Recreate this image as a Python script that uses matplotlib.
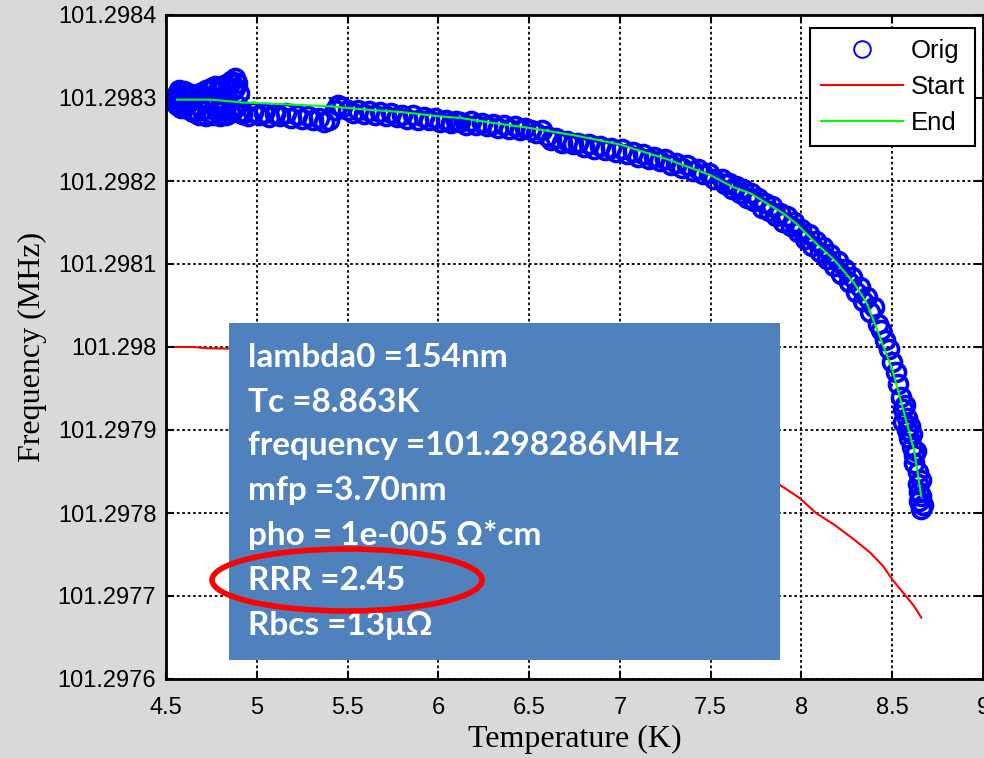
import numpy as np
import matplotlib
matplotlib.use("Agg")
import matplotlib.pyplot as plt
from matplotlib.patches import Rectangle, Ellipse
from matplotlib.ticker import FormatStrFormatter, MultipleLocator

# resonance frequency vs temperature, offsets in Hz above 101.298 MHz
f0_mhz = 101.298

orig_T = [4.55, 4.56, 4.56, 4.57, 4.57, 4.58, 4.58, 4.59, 4.60, 4.60, 4.61, 4.62, 4.62, 4.63,
          4.64, 4.65, 4.65, 4.66, 4.67, 4.68, 4.68, 4.69, 4.70, 4.71, 4.72, 4.72, 4.73, 4.74,
          4.75, 4.76, 4.77, 4.77, 4.78, 4.79, 4.80, 4.81, 4.82, 4.82, 4.83, 4.84, 4.85, 4.85,
          4.86, 4.87, 4.87, 4.88, 4.88, 4.89, 4.89, 4.90, 4.90,
          4.92, 4.95, 4.98, 5.01, 5.04, 5.07, 5.10, 5.13, 5.16, 5.19, 5.22, 5.25, 5.28, 5.31,
          5.34, 5.37, 5.40, 5.43, 5.45, 5.47, 5.50, 5.53, 5.56, 5.59, 5.62, 5.65, 5.68, 5.71,
          5.74, 5.77, 5.80, 5.83, 5.86, 5.89, 5.92, 5.95, 5.98, 6.01, 6.04, 6.07, 6.10,
          6.12, 6.15, 6.18, 6.21, 6.24, 6.27, 6.30, 6.33, 6.36, 6.39, 6.42, 6.45, 6.48, 6.51,
          6.54, 6.57, 6.60, 6.62, 6.65, 6.68, 6.71, 6.74, 6.77, 6.80, 6.83, 6.86, 6.89, 6.92,
          6.95, 6.98, 7.01, 7.04, 7.07, 7.10, 7.13, 7.16, 7.19, 7.22, 7.25, 7.28, 7.31, 7.34,
          7.37, 7.40, 7.43, 7.46, 7.49, 7.52,
          7.56, 7.58, 7.60, 7.62, 7.64, 7.66, 7.68, 7.70, 7.72, 7.74, 7.76, 7.78, 7.80, 7.82,
          7.84, 7.86, 7.88, 7.90, 7.92, 7.94, 7.96, 7.98, 8.00, 8.02, 8.04, 8.06, 8.08, 8.10,
          8.12, 8.14, 8.16, 8.18, 8.20, 8.22, 8.24, 8.26, 8.28, 8.30, 8.32, 8.34, 8.36, 8.38,
          8.40, 8.42, 8.44, 8.46, 8.48, 8.50, 8.52, 8.53, 8.55, 8.56, 8.56, 8.57, 8.58, 8.58,
          8.59, 8.60, 8.61, 8.61, 8.62, 8.62, 8.63, 8.64, 8.64, 8.65, 8.65, 8.66, 8.66, 8.66,
          8.67]
orig_df = [300, 305, 292, 310, 298, 288, 303, 296, 308, 290, 300, 294, 306, 286,
           302, 297, 283, 304, 291, 299, 280, 306, 285, 300, 278, 310, 295, 282,
           312, 279, 314, 290, 284, 312, 278, 310, 286, 316, 280, 312, 318, 282,
           320, 310, 285, 324, 312, 292, 318, 283, 306,
           281, 278, 283, 279, 282, 277, 281, 278, 282, 276, 280, 275, 278, 273,
           276, 271, 274, 286, 292, 289, 285, 282, 286, 281, 284, 279, 283, 278,
           282, 277, 280, 275, 279, 274, 277, 273, 276, 271, 274, 270, 272,
           271, 268, 272, 267, 270, 266, 269, 264, 268, 263, 266, 261, 264, 262,
           258, 262, 254, 250, 252, 246, 248, 244, 246, 241, 244, 239, 242, 237,
           240, 235, 238, 232, 235, 229, 232, 226, 229, 224, 226, 219, 222, 216,
           219, 212, 214, 208, 210, 203,
           202, 196, 198, 190, 194, 186, 190, 180, 186, 176, 180, 168, 174, 164,
           170, 158, 162, 150, 158, 146, 150, 138, 142, 130, 136, 122, 128, 115,
           120, 106, 112, 98, 104, 88, 94, 78, 84, 66, 72, 56, 60, 42,
           48, 28, 20, 8, -2, -18, -30, -45, -60, -75, -90, -70, -100, -85,
           -110, -95, -120, -105, -130, -140, -125, -150, -165, -175, -185, -160, -195, -180,
           -190]

start_T = [4.55, 4.65, 4.72, 4.85, 5.0, 5.3, 5.6, 5.9, 6.2, 6.5, 6.8, 7.1, 7.4, 7.65,
           7.88, 7.99, 8.08, 8.18, 8.29, 8.38, 8.45, 8.50, 8.56, 8.62, 8.66]
start_df = [0, 0, -1.5, -2, -4, -9, -16, -25, -36, -50, -66, -84, -106, -130,
            -166, -182, -200, -214, -232, -248, -264, -280, -296, -312, -326]

end_T = [4.56, 4.75, 4.85, 4.92, 5.0, 5.2, 5.4, 5.6, 5.8, 6.0, 6.12, 6.3, 6.5, 6.75,
         7.0, 7.25, 7.5, 7.62, 7.72, 7.81, 7.9, 7.97, 8.08, 8.18, 8.29, 8.36, 8.43,
         8.5, 8.56, 8.62, 8.66]
end_df = [298, 298, 296, 294.5, 294, 292, 290, 286, 283, 278, 276, 270, 264, 255,
          244, 227, 207, 193, 185, 173, 161, 149, 125, 105, 77, 53, 13,
          -27, -75, -124, -180]

fit_lines = ["lambda0 =154nm",
             "Tc =8.863K",
             "frequency =101.298286MHz",
             "mfp =3.70nm",
             "pho = 1e-005 \u03a9*cm",
             "RRR =2.45",
             "Rbcs =13\u03bc\u03a9"]

orig_f = f0_mhz + np.array(orig_df) * 1e-6
start_f = f0_mhz + np.array(start_df) * 1e-6
end_f = f0_mhz + np.array(end_df) * 1e-6

W, H = 984, 758
fig = plt.figure(figsize=(W / 100, H / 100), dpi=100, facecolor="#d9d9d9")
ax = fig.add_axes([166 / W, 1 - 679 / H, (983 - 166) / W, (679 - 15) / H])

ax.plot(orig_T, orig_f, "o", ls="none", ms=13, mfc="none", mec=(0, 0, 1), mew=2.6, label="Orig")
ax.plot(start_T, start_f, color=(1, 0, 0), lw=1.5, label="Start")
ax.plot(end_T, end_f, color=(0, 1, 0), lw=1.5, label="End")

ax.set_xlim(4.5, 9)
ax.set_ylim(101.2976, 101.2984)
ax.xaxis.set_major_locator(MultipleLocator(0.5))
ax.yaxis.set_major_locator(MultipleLocator(0.0001))
ax.xaxis.set_major_formatter(FormatStrFormatter("%g"))
ax.yaxis.set_major_formatter(FormatStrFormatter("%.7g"))
ax.tick_params(direction="in", top=True, right=True, length=6, width=1.5,
               labelsize=17, labelfontfamily="Liberation Sans")
ax.tick_params(axis="x", pad=13)
ax.tick_params(axis="y", pad=7)
for s in ax.spines.values():
    s.set_linewidth(2)
ax.grid(True, color="black", ls=(0, (1.5, 1.5)), lw=1.3)

ax.set_xlabel("Temperature (K)", fontsize=23, family="Liberation Serif", labelpad=4)
ax.set_ylabel("Frequency (MHz)", fontsize=23, family="Liberation Serif", labelpad=8)

leg = ax.legend(loc="upper right", bbox_to_anchor=(0.9902, 0.980), borderaxespad=0,
                fancybox=False, framealpha=1, edgecolor="black",
                handlelength=3.2, handletextpad=0.3, labelspacing=0.48, borderpad=0.4,
                prop={"family": "Liberation Sans", "size": 18.5})
leg.get_frame().set_linewidth(1.5)
for h in leg.legend_handles:
    if h.get_label() == "Orig":
        h.set_markeredgewidth(1.4)
        h.set_markersize(12)

# fit summary box pasted on top of the plot
fig.patches.append(Rectangle((229 / W, 1 - 660 / H), 551 / W, 337 / H,
                             transform=fig.transFigure, facecolor="#4f81bd",
                             edgecolor="none", zorder=5))
baselines = [367, 412, 455, 500, 545, 590, 635]
for txt, yb in zip(fit_lines, baselines):
    fig.text(248 / W, 1 - yb / H, txt, color="white", fontsize=24, fontweight="bold",
             family=["Lato", "Liberation Serif"], va="baseline", zorder=6)
fig.patches.append(Ellipse((347 / W, 1 - 580 / H), 270 / W, 62 / H,
                           transform=fig.transFigure, facecolor="none",
                           edgecolor=(1, 0, 0), lw=4, zorder=7))

fig.savefig("out.png", dpi=100, facecolor=fig.get_facecolor())
